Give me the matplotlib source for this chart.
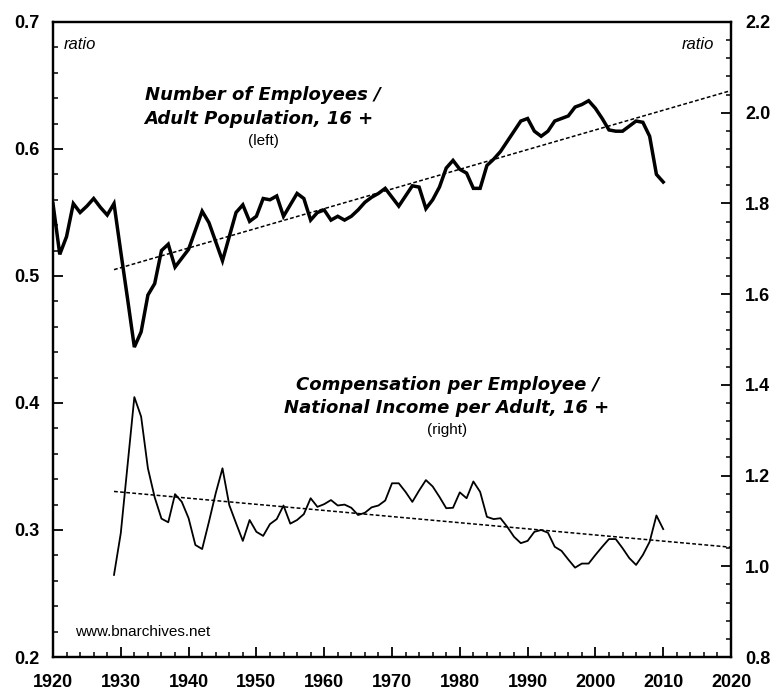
import numpy as np
import matplotlib
matplotlib.use("Agg")
import matplotlib.pyplot as plt
from matplotlib.ticker import MultipleLocator

plt.rcParams['font.family'] = ['Liberation Sans', 'DejaVu Sans']

# Number of employees / adult population 16+ (left axis), 1920-2010
emp_years = np.arange(1920, 2011)
emp_ratio = [
    0.557, 0.517, 0.531, 0.557, 0.550, 0.555, 0.561, 0.554, 0.548, 0.557,
    0.519, 0.482, 0.444, 0.456, 0.485, 0.494, 0.520, 0.525, 0.507, 0.514,
    0.521, 0.536, 0.551, 0.542, 0.527, 0.512, 0.531, 0.550, 0.556, 0.543,
    0.547, 0.561, 0.560, 0.563, 0.547, 0.556, 0.565, 0.561, 0.544, 0.550,
    0.552, 0.544, 0.547, 0.544, 0.547, 0.552, 0.558, 0.562, 0.565, 0.569,
    0.562, 0.555, 0.563, 0.571, 0.570, 0.553, 0.560, 0.570, 0.585, 0.591,
    0.584, 0.581, 0.569, 0.569, 0.587, 0.592, 0.598, 0.606, 0.614, 0.622,
    0.624, 0.614, 0.610, 0.614, 0.622, 0.624, 0.626, 0.633, 0.635, 0.638,
    0.632, 0.624, 0.615, 0.614, 0.614, 0.618, 0.622, 0.621, 0.610, 0.580,
    0.574,
]

# Compensation per employee / national income per adult 16+ (right axis), 1929-2010
comp_years = np.arange(1929, 2011)
comp_ratio = [
    0.981, 1.073, 1.223, 1.373, 1.330, 1.216, 1.152, 1.105, 1.097, 1.159,
    1.142, 1.106, 1.047, 1.038, 1.098, 1.161, 1.216, 1.135, 1.095, 1.056,
    1.102, 1.076, 1.067, 1.093, 1.104, 1.134, 1.094, 1.102, 1.115, 1.150,
    1.131, 1.137, 1.146, 1.134, 1.136, 1.129, 1.113, 1.118, 1.130, 1.134,
    1.145, 1.183, 1.183, 1.164, 1.142, 1.167, 1.190, 1.176, 1.153, 1.128,
    1.129, 1.163, 1.150, 1.187, 1.164, 1.109, 1.104, 1.106, 1.087, 1.065,
    1.051, 1.056, 1.076, 1.080, 1.074, 1.043, 1.034, 1.015, 0.997, 1.006,
    1.006, 1.025, 1.043, 1.060, 1.060, 1.040, 1.018, 1.003, 1.025, 1.054,
    1.112, 1.082,
]

# trend lines (end points)
trend_years = [1929, 2020]
emp_trend = [0.505, 0.646]
comp_trend = [1.165, 1.042]

fig = plt.figure(figsize=(7.78, 6.91), dpi=100)
ax = fig.add_axes([0.0681, 0.0492, 0.8715, 0.919])
ax2 = ax.twinx()

ax.plot(emp_years, emp_ratio, color='black', lw=2.5, solid_joinstyle='miter', zorder=3)
ax.plot(trend_years, emp_trend, color='black', lw=1.1, ls=(0, (2.5, 1.5)))
ax2.plot(comp_years, comp_ratio, color='black', lw=1.3, zorder=3)
ax2.plot(trend_years, comp_trend, color='black', lw=1.1, ls=(0, (2.5, 1.5)))

ax.set_xlim(1920, 2020)
ax.set_ylim(0.2, 0.7)
ax2.set_ylim(0.8, 2.2)

ax.xaxis.set_major_locator(MultipleLocator(10))
ax.xaxis.set_minor_locator(MultipleLocator(2))
ax.yaxis.set_minor_locator(MultipleLocator(0.02))
ax2.yaxis.set_minor_locator(MultipleLocator(0.04))

ax.set_yticks(np.arange(0.2, 0.71, 0.1))
ax.set_yticklabels(['0.2', '0.3', '0.4', '0.5', '0.6', '0.7'])
ax2.set_yticks(np.arange(0.8, 2.21, 0.2))
ax2.set_yticklabels(['0.8', '1.0', '1.2', '1.4', '1.6', '1.8', '2.0', '2.2'])

for a in (ax, ax2):
    for s in a.spines.values():
        s.set_linewidth(1.6)
ax.tick_params(axis='both', which='major', direction='in', length=7, width=1.3,
               labelsize=13, pad=10)
ax.tick_params(axis='both', which='minor', direction='in', length=3.5, width=1.1)
ax.tick_params(axis='x', which='major', pad=12)
ax.tick_params(axis='y', which='both', right=False)
ax2.tick_params(axis='y', which='major', direction='in', length=7, width=1.3,
                labelsize=13, pad=10)
ax2.tick_params(axis='y', which='minor', direction='in', length=3.5, width=1.1)
for lab in ax.get_xticklabels() + ax.get_yticklabels() + ax2.get_yticklabels():
    lab.set_fontweight('bold')

ax.text(0.016, 0.965, 'ratio', transform=ax.transAxes, style='italic',
        fontsize=12, ha='left', va='center')
ax.text(0.975, 0.965, 'ratio', transform=ax.transAxes, style='italic',
        fontsize=12, ha='right', va='center')

title_font = dict(family=['DejaVu Sans'], fontsize=13, fontweight='bold',
                  style='italic', ha='center', va='center')
ax.text(1951.0, 0.6425, 'Number of Employees /', **title_font)
ax.text(1950.3, 0.6236, 'Adult Population, 16 +', **title_font)
ax.text(1951.0, 0.6063, '(left)', fontsize=11, ha='center', va='center')

ax.text(1978.2, 0.414, 'Compensation per Employee /', **title_font)
ax.text(1978.0, 0.396, 'National Income per Adult, 16 +', **title_font)
ax.text(1978.1, 0.379, '(right)', fontsize=11, ha='center', va='center')

ax.text(0.032, 0.04, 'www.bnarchives.net', transform=ax.transAxes,
        fontsize=11, ha='left', va='center')

fig.savefig('out.png', dpi=100)
